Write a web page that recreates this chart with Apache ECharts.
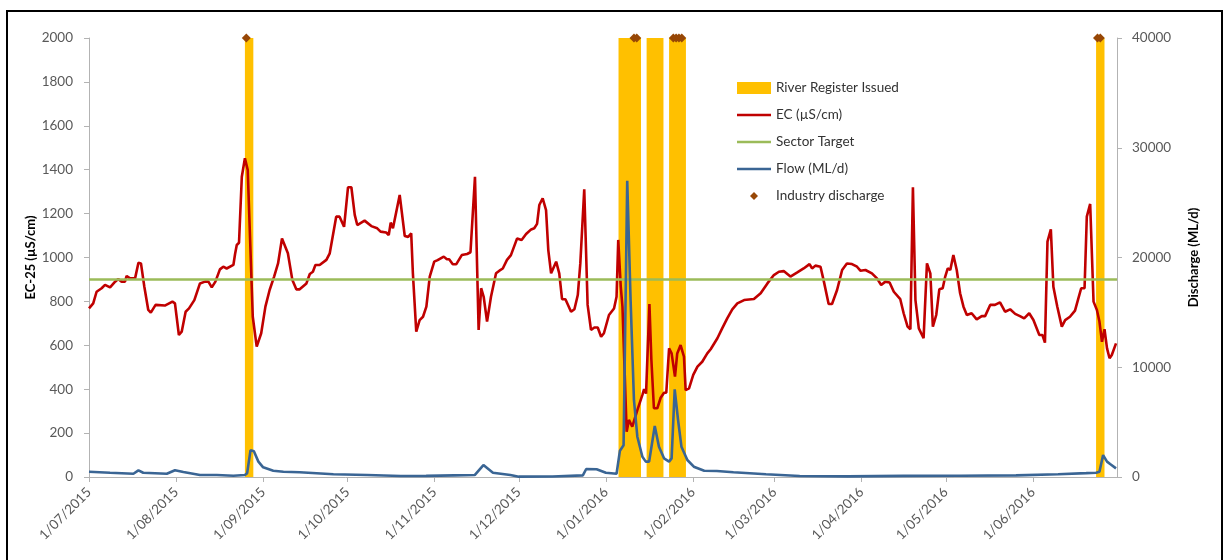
<!DOCTYPE html>
<html>
<head>
<meta charset="utf-8">
<script src="https://cdn.jsdelivr.net/npm/echarts@6/dist/echarts.min.js"></script>
<style>
  html, body { margin: 0; padding: 0; background: #fff; }
  #chart { width: 1224px; height: 560px; }
</style>
</head>
<body>
<div id="chart"></div>
<script>
// Daily series are given as [day, value], where day 0 is 1 July 2015.
const seriesStart = '2015-07-01';
const axisEndDay = 365.95;

// Days covered by a River Register (first day, last day, inclusive)
const registerPeriods = [
  ['2015-08-26', '2015-08-28'],
  ['2016-01-06', '2016-01-13'],
  ['2016-01-16', '2016-01-21'],
  ['2016-01-24', '2016-01-29'],
  ['2016-06-24', '2016-06-26']
];
const registerBarHeight = 2000;

const dischargeDates = [
  '2015-08-26',
  '2016-01-11', '2016-01-12',
  '2016-01-25', '2016-01-26', '2016-01-27', '2016-01-28',
  '2016-06-24', '2016-06-25'
];
const dischargeMarkerLevel = 2000;

const sectorTarget = 900;

// EC-25 (µS/cm)
const ecByDay = [
  [0, 768], [1.5, 791], [2.7, 844], [4.5, 860], [5.7, 875], [7.5, 864], [9.3, 890], [10.4, 902],
  [11.6, 890], [12.8, 890], [13.4, 916], [14.6, 905], [16.4, 905], [17.6, 976], [18.5, 973],
  [19.7, 867], [21.1, 761], [22, 749], [23.7, 784], [27, 781], [29.7, 799], [30.6, 791], [32, 647],
  [33, 662], [34.4, 753], [35.6, 768], [37.5, 806], [39.5, 882], [41.3, 890], [42.5, 890],
  [43.7, 864], [45, 890], [46.6, 946], [47.8, 958], [49, 950], [51.4, 966], [52, 1016], [52.6, 1057],
  [53.4, 1067], [54.4, 1368], [55.5, 1452], [56.5, 1399], [58.3, 730], [59.7, 594], [61.3, 655],
  [62.8, 776], [64.3, 852], [65.9, 913], [67.3, 973], [68.7, 1087], [69.4, 1092], [70.8, 1019],
  [72.4, 897], [73.8, 855], [75, 855], [77.4, 882], [78.6, 925], [79.7, 935], [80.6, 966],
  [82.1, 966], [84.5, 989], [85.7, 1019], [88, 1186], [89.2, 1186], [90.8, 1140], [92.2, 1320],
  [93.4, 1320], [94.6, 1194], [95.5, 1148], [98.1, 1168], [100.5, 1143], [102.6, 1133],
  [103.8, 1118], [105.8, 1114], [106.7, 1102], [107.4, 1159], [108.2, 1133], [110.6, 1285],
  [112.4, 1098], [113.6, 1094], [114.7, 1110], [115.3, 928], [116.5, 662], [117.7, 715],
  [118.9, 730], [120.1, 776], [121.3, 913], [122.9, 981], [124.1, 988], [126.3, 1004],
  [127.4, 992], [128.2, 992], [129.5, 969], [130.7, 969], [132.7, 1011], [134.6, 1016],
  [135.8, 1024], [137.4, 1368], [138.7, 670], [139.6, 860], [140.5, 821], [141.7, 708],
  [143.1, 821], [144.9, 928], [146.1, 940], [147.3, 950], [148.8, 989], [150.2, 1011],
  [152.4, 1087], [154, 1080], [155.6, 1107], [157.4, 1128], [158.5, 1133], [159.5, 1153],
  [160.3, 1239], [161.5, 1270], [162.7, 1216], [163.5, 1034], [164.5, 928], [166.3, 981],
  [167.4, 928], [168.4, 810], [169.6, 810], [171.6, 753], [172.8, 764], [174, 829], [174.9, 973],
  [176.3, 1311], [177.5, 784], [178.7, 670], [179.9, 681], [181.1, 681], [182.3, 639],
  [183.3, 655], [185.1, 738], [186.9, 768], [187.8, 821], [188.4, 1080], [189.3, 867],
  [189.9, 776], [191.4, 206], [192.2, 260], [193.4, 229], [195.2, 305], [197, 374], [197.6, 400],
  [198.3, 380], [199.5, 788], [200.2, 533], [201.1, 313], [202.3, 313], [203.5, 361],
  [204.7, 384], [205.5, 384], [206.5, 586], [207.4, 563], [208.6, 457], [209.4, 563],
  [210.6, 601], [211.8, 548], [212.4, 396], [213.6, 404], [215.1, 465], [216.6, 503],
  [218.3, 525], [220.1, 563], [221.3, 582], [223.7, 632], [225.4, 677], [227.2, 723], [229, 764],
  [230.8, 791], [233.2, 806], [236.7, 811], [239.1, 837], [241.5, 882], [243.8, 920],
  [245.6, 935], [247.3, 938], [249.7, 913], [252, 931], [254.4, 950], [256.5, 970], [257.4, 950],
  [258.6, 963], [260.4, 958], [261.5, 897], [263.3, 788], [264.5, 788], [266.3, 852],
  [268.1, 943], [269.8, 973], [271.6, 970], [273.4, 958], [274.6, 940], [276.4, 943],
  [278.7, 928], [280.5, 905], [282, 875], [283.5, 890], [285, 886], [286.5, 844], [288.8, 810],
  [290, 746], [291.4, 685], [292.4, 673], [293.3, 1320], [294.2, 806], [295.4, 677], [297.1, 632],
  [298.3, 973], [299.5, 928], [300.4, 685], [301.6, 738], [302.7, 855], [303.9, 860],
  [304.8, 913], [305.7, 950], [306.6, 943], [307.7, 1011], [308.9, 943], [310.1, 837],
  [311.3, 776], [312.5, 738], [314.2, 746], [316, 718], [317.8, 733], [319, 733], [320.8, 784],
  [322.5, 784], [324.3, 796], [326.1, 753], [327.9, 764], [329.7, 743], [331.4, 733],
  [332.9, 723], [334.7, 746], [336.2, 715], [338.3, 647], [339.4, 647], [340.3, 612],
  [341.2, 1072], [342.4, 1128], [343.3, 867], [344.7, 776], [346.3, 685], [347.5, 715],
  [349.2, 730], [351, 758], [352.2, 814], [353.2, 860], [354.4, 860], [355.2, 1186],
  [356.4, 1244], [357.6, 799], [358.8, 761], [359.7, 708], [360.6, 616], [361.5, 673],
  [362.4, 586], [363.3, 541], [364.1, 556], [365.6, 609]
];

// Flow (ML/d)
const flowByDay = [
  [0, 480], [7.5, 390], [15.8, 300], [17.6, 610], [19.3, 390], [27.7, 300], [30.6, 610],
  [33.6, 450], [39.5, 180], [45.5, 180], [51.4, 120], [55.5, 180], [56.3, 350], [57.5, 2450],
  [58.7, 2350], [60.3, 1400], [62, 880], [65.6, 570], [69.2, 480], [75, 430], [87, 250],
  [99, 180], [111, 90], [120, 100], [130, 150], [137.3, 180], [140.4, 1090], [143.8, 390],
  [150, 180], [153, 30], [165, 40], [175.8, 150], [177, 730], [180.7, 700], [184, 390],
  [187.8, 300], [189, 2400], [190.3, 2900], [191.6, 27000], [192.8, 16100], [194, 7000],
  [195.2, 3670], [197, 1850], [198.2, 1400], [199.4, 1400], [201.4, 4650], [202.9, 2760],
  [204.7, 1700], [206.5, 1400], [207.4, 1700], [208.5, 7990], [209.7, 5190], [210.9, 2760],
  [213, 1550], [215.3, 940], [219, 575], [223.5, 550], [229.4, 430], [241, 245], [253, 90],
  [270, 60], [290, 100], [310, 120], [330, 150], [345, 250], [355, 350], [358.5, 390],
  [359.7, 480], [361, 2000], [362.4, 1400], [363.5, 1180], [365.6, 790]
];

const DAY = 86400000;
function toTime(s) {
  const [y, m, d] = s.split('-').map(Number);
  return new Date(y, m - 1, d).getTime();
}
const t0 = toTime(seriesStart);
const tEnd = t0 + axisEndDay * DAY;
const byDay = pts => pts.map(([d, v]) => [t0 + d * DAY, v]);

function fmtDate(v) {
  const d = new Date(v);
  return d.getDate() + '/' + String(d.getMonth() + 1).padStart(2, '0') + '/' + d.getFullYear();
}
const plainNumber = v => String(v);

const FONT = 'Lato, "Open Sans", sans-serif';
const AXIS_GREY = '#b3b3b3';
// legend key for the line series: a plain horizontal stroke across the key box
const LINE_KEY = 'path://M0,0M34,12M0,4.7L34,4.7L34,7.3L0,7.3Z';
const DIAMOND_KEY = 'path://M0,0M34,12M17,2L21,6L17,10L13,6Z';

const chart = echarts.init(document.getElementById('chart'), null, { renderer: 'canvas' });

chart.setOption({
  animation: false,
  backgroundColor: '#fff',
  textStyle: { fontFamily: FONT },
  graphic: [{
    type: 'rect',
    shape: { x: 7, y: 11, width: 1215, height: 560 },
    style: { fill: 'none', stroke: '#000', lineWidth: 2 },
    silent: true
  }],
  grid: { left: 89, right: 107, top: 38, bottom: 83 },
  legend: {
    orient: 'vertical',
    left: 737,
    top: 81,
    padding: 0,
    itemWidth: 34,
    itemHeight: 12,
    itemGap: 13,
    textStyle: { fontSize: 13.5, color: '#333', fontFamily: FONT },
    data: [
      { name: 'River Register Issued', icon: 'rect' },
      { name: 'EC (µS/cm)', icon: LINE_KEY },
      { name: 'Sector Target', icon: LINE_KEY },
      { name: 'Flow (ML/d)', icon: LINE_KEY },
      { name: 'Industry discharge', icon: DIAMOND_KEY }
    ]
  },
  xAxis: {
    type: 'time',
    min: t0,
    max: tEnd,
    splitNumber: 12,
    minInterval: 28 * DAY,
    maxInterval: 31 * DAY,
    axisLine: { show: true, lineStyle: { color: AXIS_GREY, width: 1 } },
    axisTick: { show: true, length: 5, lineStyle: { color: AXIS_GREY } },
    axisLabel: {
      rotate: 45,
      margin: 13,
      fontSize: 13.5,
      color: '#595959',
      fontFamily: FONT,
      hideOverlap: false,
      showMinLabel: true,
      formatter: fmtDate
    },
    splitLine: { show: false }
  },
  yAxis: [
    {
      type: 'value',
      min: 0, max: 2000, interval: 200,
      name: 'EC-25 (µS/cm)',
      nameLocation: 'middle',
      nameGap: 52,
      nameMoveOverlap: false,
      nameTextStyle: { fontWeight: 'bold', fontSize: 13, color: '#000', fontFamily: FONT },
      axisLine: { show: true, lineStyle: { color: AXIS_GREY } },
      axisTick: { show: true, length: 5, lineStyle: { color: AXIS_GREY } },
      axisLabel: { margin: 16, fontSize: 13.5, color: '#595959', fontFamily: FONT, formatter: plainNumber },
      splitLine: { show: false }
    },
    {
      type: 'value',
      position: 'right',
      min: 0, max: 40000, interval: 10000,
      name: 'Discharge (ML/d)',
      nameLocation: 'middle',
      nameGap: 70,
      nameMoveOverlap: false,
      nameTextStyle: { fontWeight: 'bold', fontSize: 13, color: '#000', fontFamily: FONT },
      axisLine: { show: true, lineStyle: { color: AXIS_GREY } },
      axisTick: { show: true, length: 5, lineStyle: { color: AXIS_GREY } },
      axisLabel: { margin: 15, fontSize: 13.5, color: '#595959', fontFamily: FONT, formatter: plainNumber },
      splitLine: { show: false }
    }
  ],
  series: [
    {
      name: 'River Register Issued',
      type: 'custom',
      yAxisIndex: 0,
      itemStyle: { color: '#ffc000' },
      encode: { x: [0, 1], y: 2 },
      data: registerPeriods.map(([a, b]) => [toTime(a) - DAY / 2, toTime(b) + DAY / 2, registerBarHeight]),
      renderItem: (params, api) => {
        const top = api.coord([api.value(0), api.value(2)]);
        const bottom = api.coord([api.value(1), 0]);
        return {
          type: 'rect',
          shape: { x: top[0], y: top[1], width: bottom[0] - top[0], height: bottom[1] - top[1] },
          style: { fill: '#ffc000' }
        };
      },
      z: 1
    },
    {
      name: 'EC (µS/cm)',
      type: 'line',
      yAxisIndex: 0,
      symbol: 'none',
      showSymbol: false,
      color: '#c00000',
      lineStyle: { color: '#c00000', width: 2.6 },
      data: byDay(ecByDay),
      z: 3
    },
    {
      name: 'Sector Target',
      type: 'line',
      yAxisIndex: 0,
      symbol: 'none',
      showSymbol: false,
      color: '#9bbb59',
      lineStyle: { color: '#9bbb59', width: 2.6 },
      data: [[t0, sectorTarget], [tEnd, sectorTarget]],
      z: 4
    },
    {
      name: 'Flow (ML/d)',
      type: 'line',
      yAxisIndex: 1,
      symbol: 'none',
      showSymbol: false,
      color: '#3a6594',
      lineStyle: { color: '#3a6594', width: 2.6 },
      data: byDay(flowByDay),
      z: 5
    },
    {
      name: 'Industry discharge',
      type: 'scatter',
      yAxisIndex: 0,
      symbol: 'diamond',
      symbolSize: 9,
      clip: false,
      color: '#974706',
      itemStyle: { color: '#974706', opacity: 1 },
      data: dischargeDates.map(d => [toTime(d), dischargeMarkerLevel]),
      z: 6
    }
  ]
});
</script>
</body>
</html>
